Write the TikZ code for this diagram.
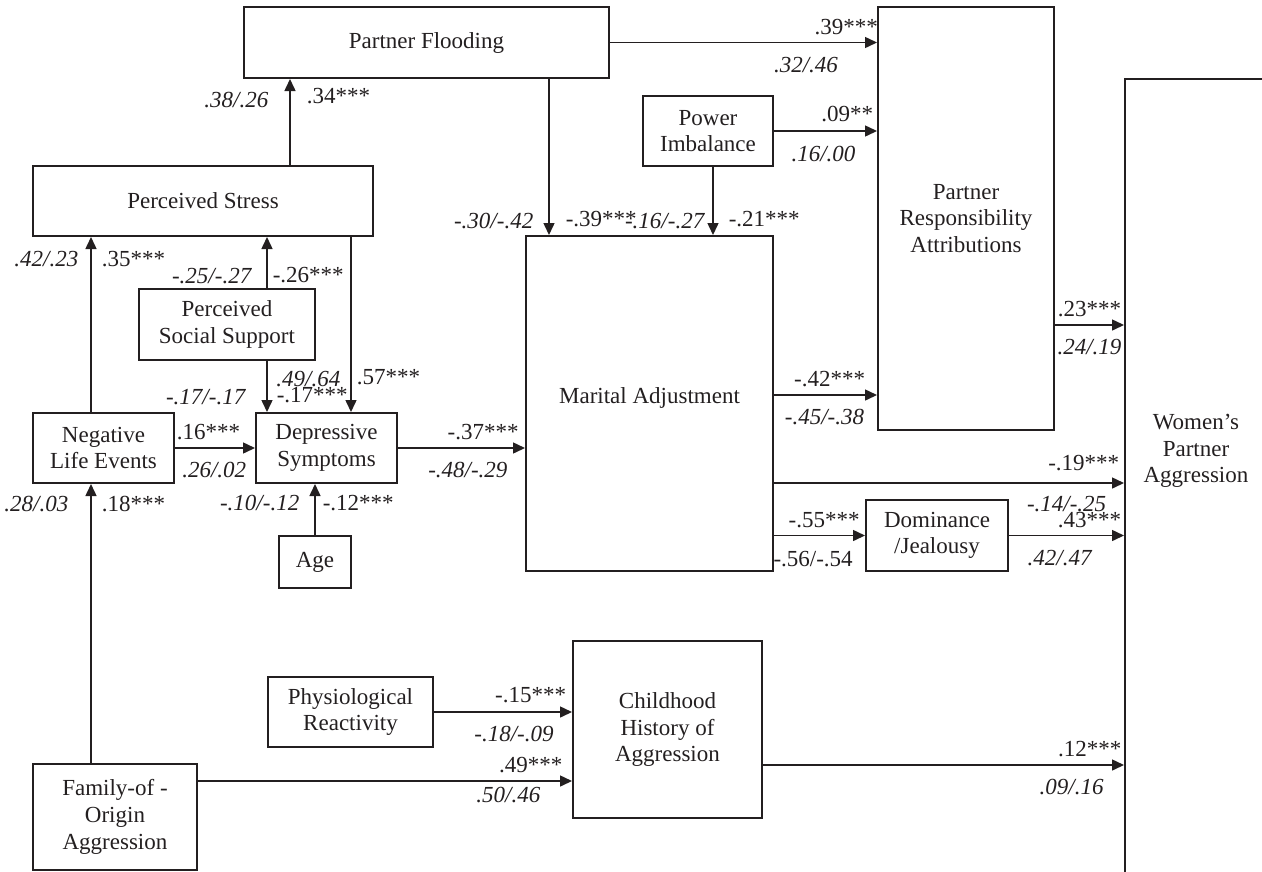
\documentclass[tikz,border=0pt]{standalone}
\usepackage{fontspec}
\setmainfont{Liberation Serif}
\usetikzlibrary{arrows.meta, positioning}
\newcommand{\boxfont}{\fontsize{23}{26.7}\selectfont}
\definecolor{ink}{RGB}{35,31,32}

\begin{document}
\begin{tikzpicture}[x=1pt, y=-1pt,
      factor/.style={draw=ink, line width=2pt, align=center, inner sep=0pt, font=\boxfont, text=ink},
      arr/.style={-{Triangle[length=12pt, width=11pt]}, line width=1.5pt, draw=ink},
      coef/.style={inner sep=0pt, font=\boxfont, text=ink},
      est/.style={coef, font=\boxfont\itshape}
    ]
    \useasboundingbox (0,0) rectangle (1262,871);
    \node[factor, minimum width=365pt, minimum height=71pt] (flood) at (426.5,42.5) {Partner Flooding};
    \node[factor, minimum width=340pt, minimum height=70pt] (stress) at (203,201) {Perceived Stress};
    \node[factor, minimum width=176pt, minimum height=71pt] (support) at (227,324.5) {Perceived\\Social Support};
    \node[factor, minimum width=141pt, minimum height=70pt] (negev) at (103.5,448) {Negative\\Life Events};
    \node[factor, minimum width=141pt, minimum height=70pt] (depr) at (326.5,448) {Depressive\\Symptoms};
    \node[factor, minimum width=72pt, minimum height=52pt] (age) at (315,562) {Age};
    \node[factor, minimum width=164pt, minimum height=106pt] (family) at (115,817) {Family-of -\\Origin\\Aggression};
    \node[factor, minimum width=130pt, minimum height=70pt] (power) at (708,131) {Power\\Imbalance};
    \node[factor, minimum width=247pt, minimum height=335pt] (marital) at (649.5,403.5) {\raisebox{16pt}{Marital Adjustment}};
    \node[factor, minimum width=176pt, minimum height=423pt] (pra) at (966,218.5) {Partner\\Responsibility\\Attributions};
    \node[factor, minimum width=142pt, minimum height=71pt] (dom) at (937,535.5) {Dominance\\/Jealousy};
    \node[factor, minimum width=165pt, minimum height=70pt] (physio) at (350.5,712) {Physiological\\Reactivity};
    \node[factor, minimum width=189pt, minimum height=177pt] (child) at (667.5,729.5) {Childhood\\History of\\Aggression};
    \node[factor, anchor=north west, minimum width=150pt, minimum height=830pt,
      label={[coef, align=center, xshift=-4pt, yshift=43pt]center:Women's\\Partner\\Aggression}] (women) at (1124,78) {};

    \draw[arr] ([xshift=258pt]stress.north west) coordinate (s1) -- (s1 |- flood.south)
      node[est, pos=.75, left=21pt] {.38/.26} node[coef, pos=.8, right=16pt] {.34***};
    \draw[arr] ([xshift=59pt]negev.north west) coordinate (n1) -- (n1 |- stress.south)
      node[est, pos=.876, left=12pt] {.42/.23} node[coef, pos=.876, right=10pt] {.35***};
    \draw[arr] ([xshift=129pt]support.north west) coordinate (p1) -- (p1 |- stress.south)
      node[est, pos=.23, left=15pt] {-.25/-.27} node[coef, pos=.26, right=5pt] {-.26***};
    \draw[arr] ([xshift=-23pt]stress.south east) coordinate (s2) -- (s2 |- depr.north)
      node[coef, pos=.8, right=5pt] {.57***} node[est, pos=.81, left=10pt] {.49/.64};
    \draw[arr] ([xshift=129pt]support.south west) coordinate (p2) -- (p2 |- depr.north)
      node[coef, pos=.66, right=9pt] {-.17***} node[est, pos=.7, left=21pt] {-.17/-.17};
    \draw[arr] (negev.east) -- (depr.west)
      node[coef, pos=.42, above=7pt] {.16***} node[est, pos=.49, below=13pt] {.26/.02};
    \draw[arr] (age.north) -- (age.north |- depr.south)
      node[est, pos=.62, left=15pt] {-.10/-.12} node[coef, pos=.62, right=7pt] {-.12***};
    \draw[arr] ([xshift=59pt]family.north west) coordinate (f1) -- (f1 |- negev.south)
      node[est, pos=.93, left=22pt] {.28/.03} node[coef, pos=.93, right=10pt] {.18***};
    \draw[arr] (depr.east) -- (depr.east -| marital.west)
      node[coef, pos=.67, above=7pt] {-.37***} node[est, pos=.55, below=13pt] {-.48/-.29};

    \draw[arr] ([xshift=306pt]flood.south west) coordinate (f2) -- (f2 |- marital.north)
      node[est, pos=.91, left=15pt] {-.30/-.42} node[coef, pos=.9, right=16pt] {-.39***};
    \draw[arr] ([xshift=71pt]power.south west) coordinate (w1) -- (w1 |- marital.north)
      node[est, pos=.8, left=8pt] {-.16/-.27} node[coef, pos=.77, right=15pt] {-.21***};
    \draw[arr] (flood.east) -- (flood.east -| pra.west)
      node[coef, pos=.885, above=7pt] {.39***} node[est, pos=.734, below=14pt] {.32/.46};
    \draw[arr] (power.east) -- (power.east -| pra.west)
      node[coef, pos=.71, above=8pt] {.09**} node[est, pos=.48, below=14pt] {.16/.00};
    \draw[arr] ([yshift=8.5pt]marital.east) coordinate (m1) -- (m1 -| pra.west)
      node[coef, pos=.54, above=7pt] {-.42***} node[est, pos=.49, below=13pt] {-.45/-.38};
    \draw[arr] ([yshift=106pt]pra.south east) coordinate (r1) -- (r1 -| women.west)
      node[coef, pos=.5, above=7pt] {.23***} node[est, pos=.5, below=14pt] {.24/.19};
    \draw[arr] ([yshift=89pt]marital.south east) coordinate (m2) -- (m2 -| women.west)
      node[coef, pos=.885, above=11pt] {-.19***} node[est, pos=.836, below=13pt] {-.14/-.25};
    \draw[arr] (dom.west -| marital.east) -- (dom.west)
      node[coef, pos=.55, above=7pt] {-.55***} node[coef, pos=.43, below=15pt] {-.56/-.54};
    \draw[arr] (dom.east) -- (dom.east -| women.west)
      node[coef, pos=.7, above=7pt] {.43***} node[est, pos=.44, below=14pt] {.42/.47};

    \draw[arr] (physio.east) -- (physio.east -| child.west)
      node[coef, pos=.7, above=8pt] {-.15***} node[est, pos=.58, below=13pt] {-.18/-.09};
    \draw[arr] ([yshift=-18pt]family.north east) coordinate (f3) -- (f3 -| child.west)
      node[coef, pos=.89, above=7pt] {.49***} node[est, pos=.83, below=5pt] {.50/.46};
    \draw[arr] ([yshift=-35.5pt]child.east) coordinate (c1) -- (c1 -| women.west)
      node[coef, pos=.905, above=7pt] {.12***} node[est, pos=.855, below=13pt] {.09/.16};
  \end{tikzpicture}
\end{document}
